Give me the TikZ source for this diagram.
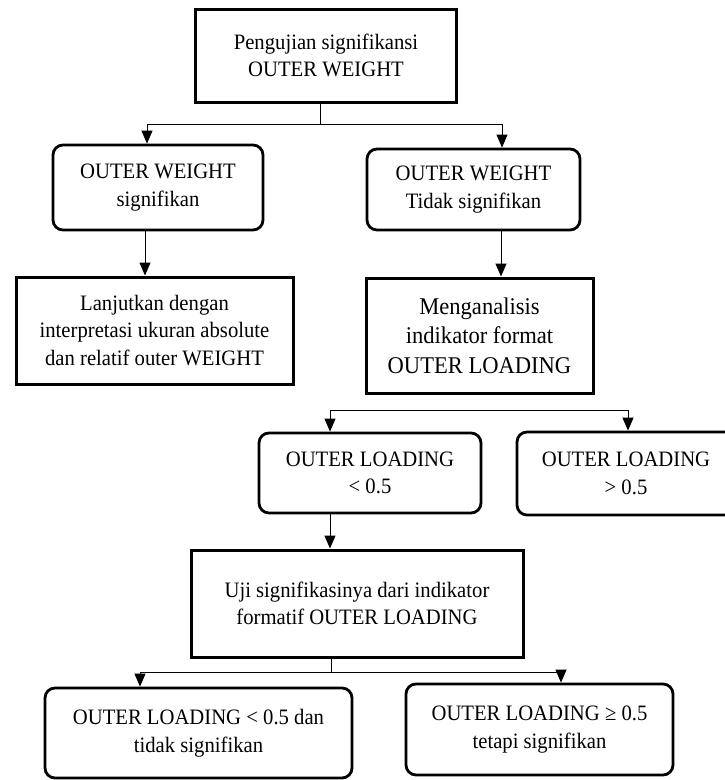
\documentclass[tikz,border=0pt]{standalone}
\usepackage{fontspec}
\setmainfont{Liberation Serif}[FakeStretch=0.94]
\usetikzlibrary{arrows.meta}
\tikzset{
  kotak/.style={draw,line width=3pt,align=center,inner sep=0pt,font=\fontsize{22}{27.5}\selectfont},
  kotakr/.style={kotak,rounded corners=10pt,line width=2.8pt},
}
\begin{document}
\begin{tikzpicture}[x=1pt,y=-1pt,>={Triangle[length=13pt,width=11pt]},line width=1pt]
\useasboundingbox (0,0) rectangle (724,780);

% Kotak
\node[kotak,minimum width=261pt,minimum height=93pt] (top) at (326,55.5) {Pengujian signifikansi\\OUTER WEIGHT};
\node[kotakr,minimum width=210pt,minimum height=85pt] (ow1) at (158,187.5) {OUTER WEIGHT\\signifikan};
\node[kotakr,minimum width=213pt,minimum height=81pt] (ow2) at (473.5,189.5) {OUTER WEIGHT\\Tidak signifikan};
\node[kotak,minimum width=277pt,minimum height=107pt] (lanjut) at (154.5,330.5) {Lanjutkan dengan\\interpretasi ukuran absolute\\dan relatif outer WEIGHT};
\node[kotak,minimum width=227pt,minimum height=115pt,font=\fontsize{24}{29.5}\selectfont] (analisis) at (479.5,335.5) {Menganalisis\\indikator format\\OUTER LOADING};
\node[kotakr,minimum width=222pt,minimum height=80pt] (ol1) at (370,473) {OUTER LOADING\\< 0.5};
\node[kotakr,minimum width=218pt,minimum height=83pt] (ol2) at (626,473.5) {OUTER LOADING\\> 0.5};
\node[kotak,minimum width=332pt,minimum height=107pt] (uji) at (357,603.5) {Uji signifikasinya dari indikator\\formatif OUTER LOADING};
\node[kotakr,minimum width=307pt,minimum height=90pt] (hasil1) at (198.5,733) {OUTER LOADING < 0.5 dan\\tidak signifikan};
\node[kotakr,minimum width=267pt,minimum height=91pt] (hasil2) at (539.5,729.5) {OUTER LOADING ≥ 0.5\\tetapi signifikan};

% Cabang pertama
\coordinate (s1) at (320,124);
\coordinate (a1) at (147,124);
\coordinate (a2) at (502,124);
\draw (s1 |- top.south) -- (s1);
\draw (a1) -- (a2);
\draw[->] (a1) -- (a1 |- ow1.north);
\draw[->] (a2) -- (a2 |- ow2.north);

% Panah lurus
\draw[->] (145,0 |- ow1.south) -- (145,0 |- lanjut.north);
\draw[->] (501,0 |- ow2.south) -- (501,0 |- analisis.north);

% Cabang kedua
\coordinate (b1) at (330,410);
\coordinate (b2) at (628,410);
\draw (b1) -- (b2);
\draw[->] (b1) -- (b1 |- ol1.north);
\draw[->] (b2) -- (b2 |- ol2.north);
\draw[->] (b1 |- ol1.south) -- (b1 |- uji.north);

% Cabang ketiga
\coordinate (s3) at (331,672);
\coordinate (c1) at (140,672);
\coordinate (c2) at (561,672);
\draw (s3 |- uji.south) -- (s3);
\draw (c1) -- (c2);
\draw[->] (c1) -- (c1 |- hasil1.north);
\draw[->] (c2) -- (c2 |- hasil2.north);

\end{tikzpicture}
\end{document}
